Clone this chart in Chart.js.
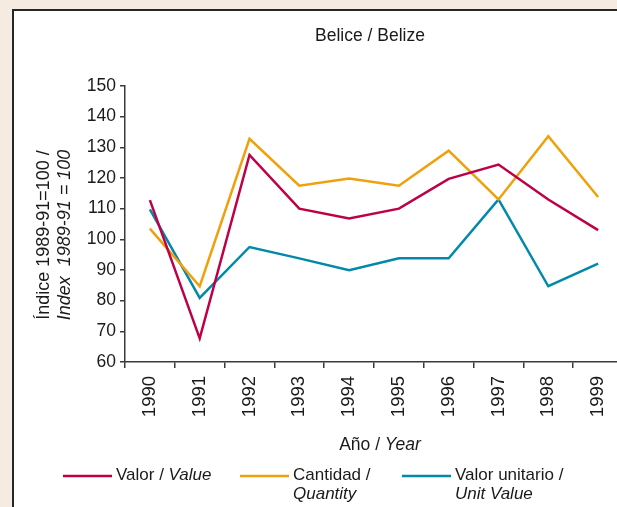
<!DOCTYPE html>
<html>
<head>
<meta charset="utf-8">
<script src="https://cdn.jsdelivr.net/npm/chart.js@4/dist/chart.umd.min.js"></script>
<style>
  html, body { margin: 0; padding: 0; }
  body { width: 617px; height: 507px; overflow: hidden; background: #f5ebe0; position: relative; }
  .panel { position: absolute; left: 12px; top: 9px; width: 700px; height: 600px; background: #fff; border: 2px solid #262626; }
  #chart { position: absolute; left: 0; top: 0; }
</style>
</head>
<body>
<div class="panel"></div>
<canvas id="chart" width="640" height="507"></canvas>
<script>
const years = ['1990', '1991', '1992', '1993', '1994', '1995', '1996', '1997', '1998', '1999'];
const valor = [112.8, 67.7, 127.5, 110, 106.8, 110, 119.7, 124.4, 113, 103];
const cantidad = [103.5, 84.7, 132.8, 117.5, 119.8, 117.5, 128.9, 113, 133.6, 113.8];
const unitario = [109.8, 80.9, 97.5, 93.8, 89.9, 93.8, 93.8, 113, 84.7, 92.1];
const yTicks = [60, 70, 80, 90, 100, 110, 120, 130, 140, 150];

const FONT = '"Liberation Sans", Arial, Helvetica, sans-serif';
const INK = '#1a1a1a';
const AXIS = '#3a3a3a';
const COLORS = { valor: '#bf0046', cantidad: '#f0a00a', unitario: '#0089a9' };

// legend entries: colour, first line (plain + italic), second line (italic)
const legendItems = [
  { color: COLORS.valor, x: 63, plain: 'Valor / ', italic: 'Value', second: '' },
  { color: COLORS.cantidad, x: 240, plain: 'Cantidad /', italic: '', second: 'Quantity' },
  { color: COLORS.unitario, x: 402, plain: 'Valor unitario /', italic: '', second: 'Unit Value' }
];

function mixed(ctx, x, y, parts) {
  // draws consecutive runs of text, each with its own font
  let cx = x;
  parts.forEach(p => {
    ctx.font = p.font;
    ctx.fillText(p.text, cx, y);
    cx += ctx.measureText(p.text).width;
  });
  return cx;
}

const decorations = {
  id: 'decorations',
  afterDraw(chart) {
    const ctx = chart.ctx;
    ctx.save();
    ctx.fillStyle = INK;
    ctx.textBaseline = 'alphabetic';

    // title
    ctx.font = '17.5px ' + FONT;
    ctx.textAlign = 'center';
    ctx.fillText('Belice / Belize', 370, 41);

    // x axis title
    ctx.textAlign = 'left';
    const xt = [
      { text: 'Año / ', font: '17.5px ' + FONT },
      { text: 'Year', font: 'italic 17.5px ' + FONT }
    ];
    let w = 0;
    xt.forEach(p => { ctx.font = p.font; w += ctx.measureText(p.text).width; });
    mixed(ctx, 380 - w / 2, 450, xt);

    // y axis title, two rotated lines
    ctx.save();
    ctx.translate(0, 235);
    ctx.rotate(-Math.PI / 2);
    ctx.textAlign = 'center';
    ctx.font = '18px ' + FONT;
    ctx.fillText('Índice 1989-91=100 /', 0, 49);
    ctx.font = 'italic 18px ' + FONT;
    ctx.fillText('Index  1989-91 = 100', 0, 70);
    ctx.restore();

    // legend
    ctx.textAlign = 'left';
    legendItems.forEach(item => {
      ctx.strokeStyle = item.color;
      ctx.lineWidth = 2.5;
      ctx.beginPath();
      ctx.moveTo(item.x, 476);
      ctx.lineTo(item.x + 49, 476);
      ctx.stroke();
      ctx.fillStyle = INK;
      const parts = [{ text: item.plain, font: '17px ' + FONT }];
      if (item.italic) parts.push({ text: item.italic, font: 'italic 17px ' + FONT });
      mixed(ctx, item.x + 53, 480, parts);
      if (item.second) {
        ctx.font = 'italic 17px ' + FONT;
        ctx.fillText(item.second, item.x + 53, 499);
      }
    });
    ctx.restore();
  }
};

const series = (data, color) => ({
  data: data,
  borderColor: color,
  backgroundColor: color,
  borderWidth: 2.5,
  pointRadius: 0,
  tension: 0,
  fill: false
});

new Chart(document.getElementById('chart'), {
  type: 'line',
  data: {
    labels: years,
    datasets: [
      series(valor, COLORS.valor),
      series(cantidad, COLORS.cantidad),
      series(unitario, COLORS.unitario)
    ]
  },
  options: {
    responsive: false,
    animation: false,
    layout: { padding: { top: 86, right: 17, left: 0, bottom: 0 } },
    plugins: {
      legend: { display: false },
      tooltip: { enabled: false }
    },
    scales: {
      x: {
        offset: true,
        afterFit(scale) { scale.height = 145; },
        grid: { offset: true, drawOnChartArea: false, drawTicks: true, tickLength: 6, color: AXIS, lineWidth: 1.5 },
        border: { display: true, color: AXIS, width: 1.5 },
        ticks: {
          color: INK,
          font: { family: FONT, size: 18.5 },
          maxRotation: 90,
          minRotation: 90,
          padding: 8,
          autoSkip: false
        }
      },
      y: {
        min: 60,
        max: 150,
        afterFit(scale) { scale.width = 125; },
        afterBuildTicks(scale) { scale.ticks = yTicks.map(v => ({ value: v })); },
        grid: { drawOnChartArea: false, drawTicks: true, tickLength: 5, color: AXIS, lineWidth: 1.5 },
        border: { display: true, color: AXIS, width: 1.5 },
        ticks: {
          color: INK,
          font: { family: FONT, size: 17.5 },
          padding: 4
        }
      }
    }
  },
  plugins: [decorations]
});
</script>
</body>
</html>
